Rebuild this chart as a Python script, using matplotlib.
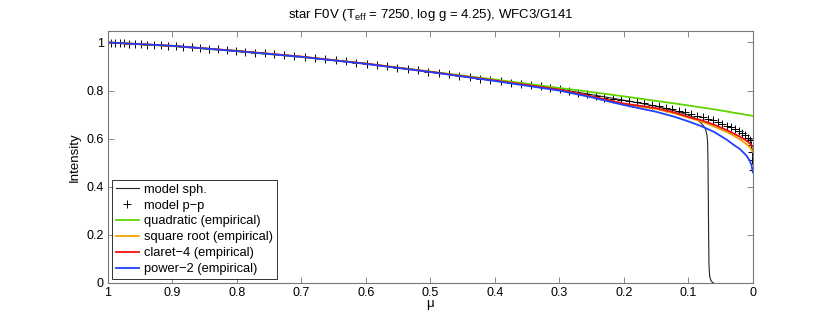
import matplotlib
matplotlib.use("Agg")
import matplotlib.pyplot as plt

plt.rcParams['font.family'] = ['Liberation Sans', 'DejaVu Sans']

# model p-p (markers)
mu_pp = [1.000, 0.995, 0.989, 0.982, 0.975, 0.967, 0.958, 0.949, 0.939, 0.929,
         0.918, 0.907, 0.895, 0.883, 0.870, 0.857, 0.844, 0.830, 0.816, 0.802,
         0.787, 0.772, 0.757, 0.742, 0.727, 0.711, 0.695, 0.679, 0.663, 0.647,
         0.631, 0.615, 0.599, 0.583, 0.567, 0.551, 0.535, 0.519, 0.503, 0.487,
         0.471, 0.455, 0.439, 0.423, 0.407, 0.391, 0.375, 0.359, 0.344, 0.329,
         0.314, 0.299, 0.285, 0.271, 0.257, 0.243, 0.230, 0.217, 0.204, 0.192,
         0.180, 0.168, 0.157, 0.146, 0.135, 0.125, 0.115, 0.105, 0.096, 0.087,
         0.078, 0.070, 0.062, 0.054, 0.047, 0.040, 0.034, 0.028, 0.022, 0.017,
         0.012, 0.008, 0.005, 0.003, 0.002, 0.001, 0.000]
I_pp = [1.000, 0.999, 0.998, 0.997, 0.996, 0.995, 0.994, 0.993, 0.991, 0.990,
        0.988, 0.987, 0.985, 0.982, 0.980, 0.977, 0.974, 0.971, 0.968, 0.965,
        0.962, 0.958, 0.955, 0.951, 0.948, 0.944, 0.940, 0.935, 0.930, 0.926,
        0.921, 0.916, 0.912, 0.906, 0.901, 0.895, 0.890, 0.884, 0.879, 0.873,
        0.868, 0.862, 0.856, 0.850, 0.845, 0.839, 0.833, 0.827, 0.822, 0.817,
        0.811, 0.806, 0.798, 0.791, 0.784, 0.777, 0.771, 0.764, 0.760, 0.758,
        0.753, 0.747, 0.742, 0.736, 0.729, 0.723, 0.716, 0.709, 0.703, 0.696,
        0.689, 0.683, 0.676, 0.668, 0.661, 0.654, 0.647, 0.640, 0.631, 0.623,
        0.614, 0.604, 0.595, 0.574, 0.546, 0.512, 0.470]

# model sph.
mu_sph = [1.0, 0.9, 0.8, 0.7, 0.6, 0.5, 0.4, 0.3, 0.2, 0.15, 0.12, 0.1, 0.09,
          0.081, 0.074, 0.071, 0.0700, 0.0695, 0.069, 0.0685, 0.068, 0.067,
          0.065, 0.0625, 0.061]
I_sph = [1.0, 0.986, 0.965, 0.941, 0.912, 0.878, 0.842, 0.806, 0.760, 0.735,
         0.715, 0.698, 0.686, 0.668, 0.645, 0.615, 0.580, 0.500, 0.350, 0.200,
         0.080, 0.030, 0.010, 0.002, 0.0]

# fitted laws
mu_fit = [1.0, 0.9, 0.8, 0.7, 0.6, 0.5, 0.4, 0.3, 0.25, 0.2, 0.15, 0.12, 0.1,
          0.08, 0.06, 0.04, 0.03, 0.02, 0.01, 0.005, 0.002, 0.0]
I_quad = [1.0, 0.985, 0.964, 0.940, 0.912, 0.879, 0.846, 0.811, 0.794, 0.776,
          0.757, 0.746, 0.738, 0.730, 0.722, 0.713, 0.708, 0.704, 0.699, 0.697,
          0.696, 0.695]
I_sqrt = [1.0, 0.986, 0.965, 0.941, 0.912, 0.878, 0.842, 0.803, 0.775, 0.744,
          0.724, 0.704, 0.688, 0.672, 0.651, 0.627, 0.613, 0.598, 0.578, 0.565,
          0.555, 0.545]
I_claret = [1.0, 0.986, 0.965, 0.941, 0.912, 0.878, 0.842, 0.804, 0.776, 0.746,
            0.727, 0.708, 0.690, 0.677, 0.658, 0.635, 0.622, 0.608, 0.592,
            0.581, 0.573, 0.567]
I_pow2 = [1.0, 0.986, 0.964, 0.940, 0.911, 0.877, 0.840, 0.800, 0.772, 0.740,
          0.712, 0.690, 0.672, 0.652, 0.628, 0.595, 0.575, 0.557, 0.530, 0.510,
          0.490, 0.460]

fig = plt.figure(figsize=(8.30, 3.19), dpi=100)
ax = fig.add_axes([0.130, 0.113, 0.777, 0.790])

ax.plot(mu_sph, I_sph, color='#222222', lw=0.8, label='model sph.')
ax.plot(mu_pp, I_pp, ls='none', marker='+', ms=6, mew=0.7, color='black',
        label='model p\u2212p')
ax.plot(mu_fit, I_quad, color='#5fd400', lw=1.3, label='quadratic (empirical)')
ax.plot(mu_fit, I_sqrt, color='#f2a300', lw=1.3, label='square root (empirical)')
ax.plot(mu_fit, I_claret, color='#ee1010', lw=1.3, label='claret\u22124 (empirical)')
ax.plot(mu_fit, I_pow2, color='#1f40ff', lw=1.3, label='power\u22122 (empirical)')

ax.set_xlim(1, 0)
ax.set_ylim(0, 1.048)
ax.set_xticks([1, 0.9, 0.8, 0.7, 0.6, 0.5, 0.4, 0.3, 0.2, 0.1, 0])
ax.set_xticklabels(['1', '0.9', '0.8', '0.7', '0.6', '0.5', '0.4', '0.3',
                    '0.2', '0.1', '0'])
ax.set_yticks([0, 0.2, 0.4, 0.6, 0.8, 1])
ax.set_yticklabels(['0', '0.2', '0.4', '0.6', '0.8', '1'])
ax.tick_params(direction='in', top=True, right=True, length=4, width=0.6,
               color='#777777', labelsize=9, pad=3)
for s in ax.spines.values():
    s.set_color('#777777')
    s.set_linewidth(0.8)

ax.set_xlabel('\u03bc', fontsize=9.5, labelpad=-1)
ax.set_ylabel('Intensity', fontsize=9.5, labelpad=4)
ax.set_title('star F0V (T$_{\\mathregular{eff}}$ = 7250, log g = 4.25), WFC3/G141',
             fontsize=9.5, pad=9)

leg = ax.legend(loc='lower left', fontsize=9.3, frameon=True, fancybox=False,
                edgecolor='black', handlelength=1.8, handletextpad=0.4,
                borderpad=0.3, labelspacing=0.3, borderaxespad=0.3)
leg.get_frame().set_linewidth(0.7)

fig.savefig('out.png', dpi=100)
